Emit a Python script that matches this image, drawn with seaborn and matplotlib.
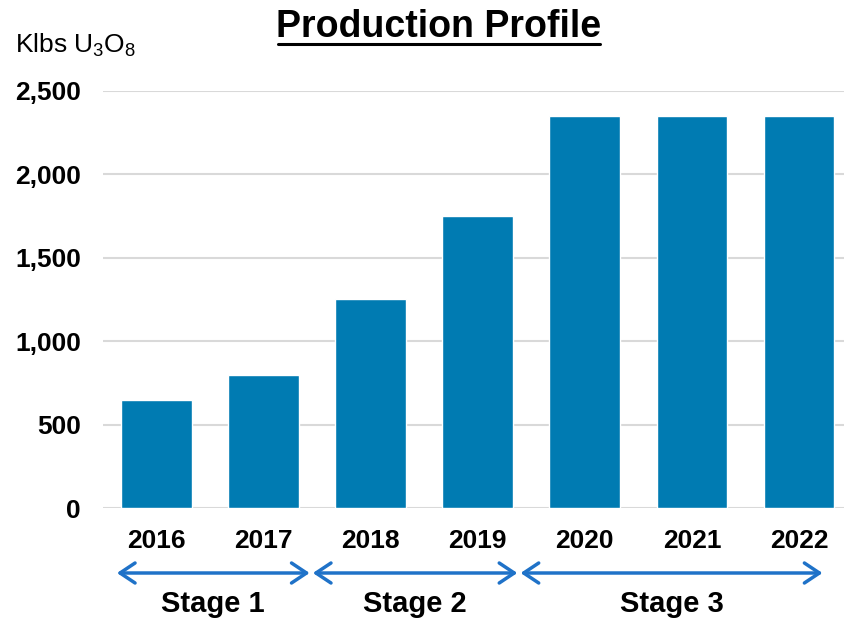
import numpy as np
import pandas as pd
import matplotlib.pyplot as plt
import matplotlib.transforms as mtransforms
import seaborn as sns

years = ["2016", "2017", "2018", "2019", "2020", "2021", "2022"]
production = [650, 800, 1255, 1750, 2350, 2350, 2350]
stages = ["Stage 1", "Stage 2", "Stage 3"]
yticks = [0, 500, 1000, 1500, 2000, 2500]

sns.set_theme(style="white")
plt.rcParams["font.family"] = ["Liberation Sans", "DejaVu Sans"]
plt.rcParams["mathtext.fontset"] = "custom"
plt.rcParams["mathtext.rm"] = "Liberation Sans"
plt.rcParams["mathtext.it"] = "Liberation Sans"
plt.rcParams["text.color"] = "black"
plt.rcParams["xtick.color"] = "black"
plt.rcParams["ytick.color"] = "black"

df = pd.DataFrame({"year": years, "klbs": production})

fig = plt.figure(figsize=(8.45, 6.18), dpi=100)
ax = fig.add_axes([103 / 845, 1 - 508 / 618, 1 - 103 / 845, (508 - 91) / 618])

sns.barplot(data=df, x="year", y="klbs", color="#007BB2", saturation=1,
            width=0.66, ax=ax, zorder=3)

ax.set_xlim(-0.5, 6.43)
ax.set_ylim(0, 2500)
ax.set_yticks(yticks)
ax.set_yticklabels([f"{v:,}" for v in yticks])
ax.yaxis.grid(True, color="#d9d9d9", linewidth=1.5, zorder=0)
ax.set_axisbelow(True)
for s in ax.spines.values():
    s.set_visible(False)
ax.tick_params(axis="y", length=0, pad=16, labelsize=19)
ax.tick_params(axis="x", length=0, pad=15, labelsize=19)
for lab in ax.get_xticklabels() + ax.get_yticklabels():
    lab.set_fontweight("bold")
ax.set_xlabel("")
ax.set_ylabel("")

fig.text(15 / 845, 1 - 45 / 618, "Klbs U$_3$O$_8$", fontsize=19, va="center", ha="left")
fig.text(439 / 845, 1 - 27 / 618, "Production Profile", fontsize=27,
         fontweight="bold", ha="center", va="center")
fig.add_artist(plt.Line2D([278 / 845, 600 / 845], [1 - 44 / 618, 1 - 44 / 618],
                          color="black", linewidth=2.2))

trans = mtransforms.blended_transform_factory(ax.transData, fig.transFigure)
lefts = [-0.37, 1.46, 3.40]
rights = [1.43, 3.37, 6.22]
for name, lo, hi in zip(stages, lefts, rights):
    ax.annotate("", xy=(hi, 1 - 573 / 618), xytext=(lo, 1 - 573 / 618),
                xycoords=trans, textcoords=trans, annotation_clip=False,
                arrowprops=dict(arrowstyle="<->,head_length=0.9,head_width=0.6",
                                color="#1F72C8", linewidth=2.5, shrinkA=0, shrinkB=0))
    ax.text((lo + hi) / 2, 1 - 604 / 618, name, transform=trans, ha="center",
            va="center", fontsize=21, fontweight="bold", clip_on=False)

fig.savefig("out.png", dpi=100)
